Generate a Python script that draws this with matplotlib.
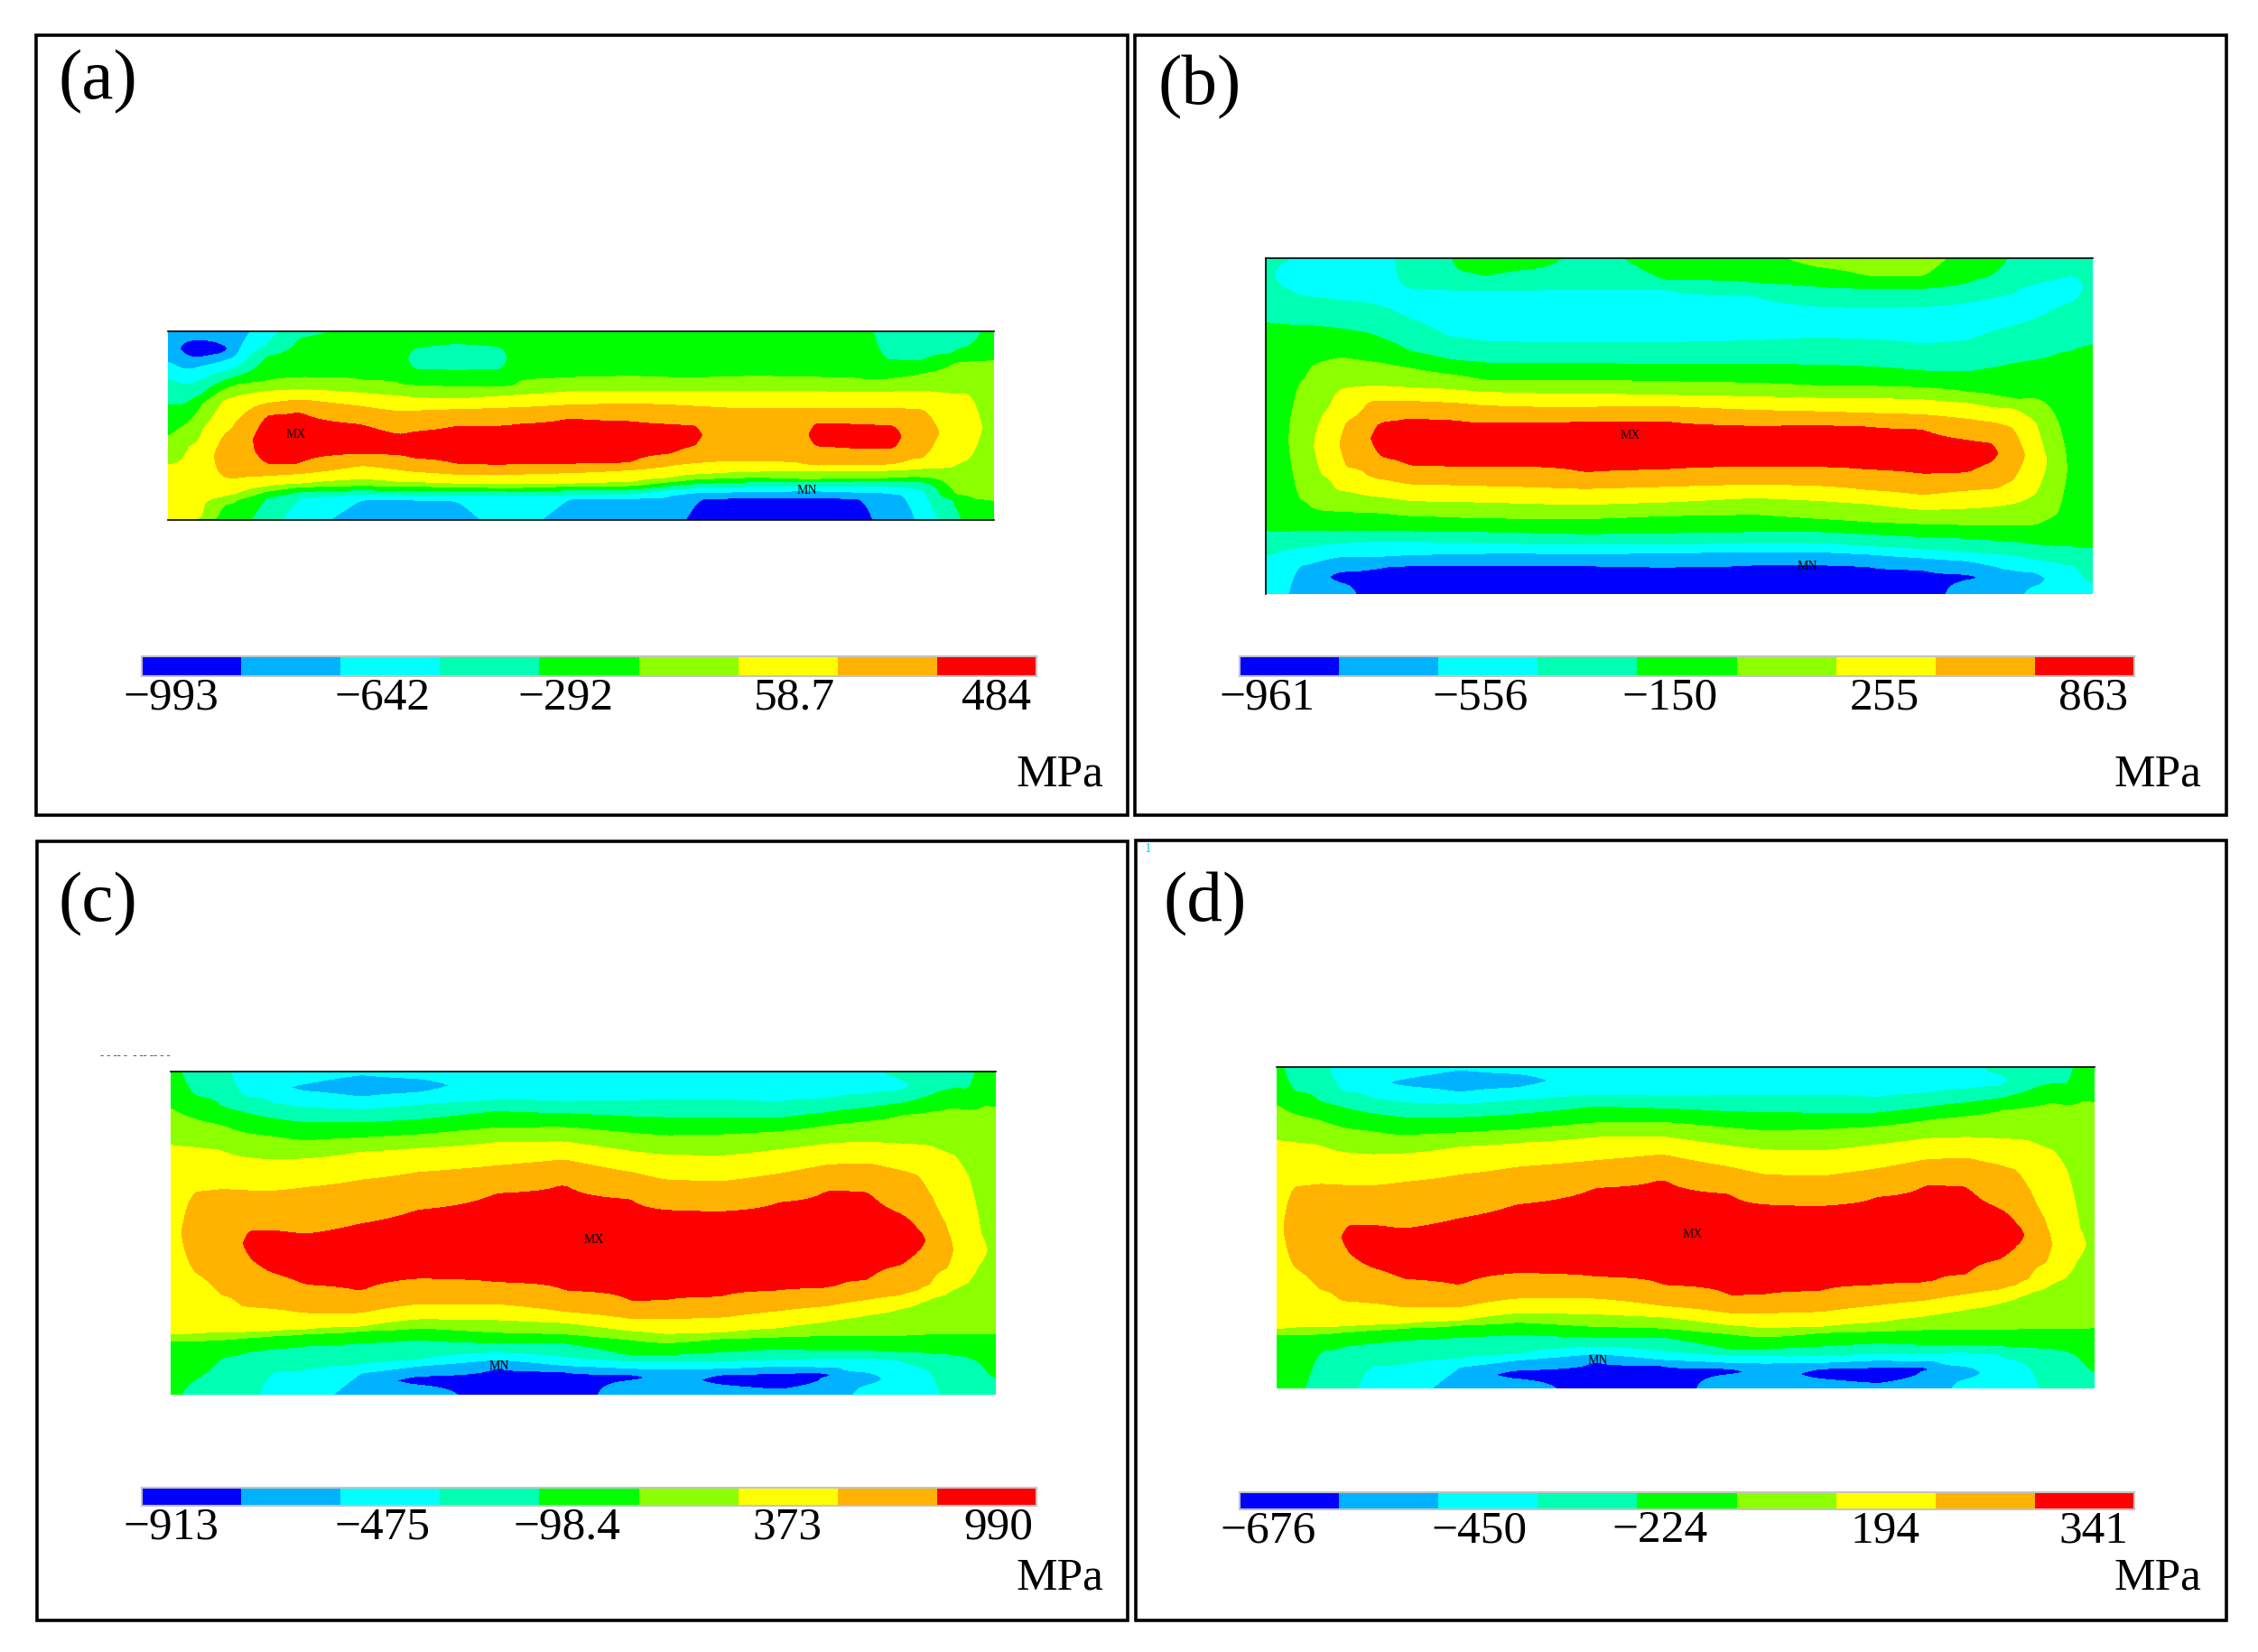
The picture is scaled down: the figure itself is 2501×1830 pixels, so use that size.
import numpy as np
import matplotlib
matplotlib.use("Agg")
import matplotlib.pyplot as plt
from matplotlib.colors import ListedColormap, BoundaryNorm
from matplotlib.patches import Rectangle

plt.rcParams['font.family'] = ['Liberation Serif', 'DejaVu Serif']

W, H = 2501, 1831
band_colors = ['#0000FF', '#00B2FF', '#00FFFF', '#00FFB2', '#00FF00',
               '#8CFF00', '#FFFF00', '#FFB200', '#FF0000']

# Each station: x position, colour bands met from top to bottom, depth of each band change
B16 = [2,3,4,5,6,7,8,7,6,5,4,3,2,1,0,1]
B14 = [2,3,4,5,6,7,8,7,6,5,4,3,2,1]
B15 = [2,3,4,5,6,7,8,7,6,5,4,3,2,1,0]
B18 = [2,1,2,3,4,5,6,7,8,7,6,5,4,3,2,1,0,1]

stations_a = [
 (58,[1,2,3,4,5,6],[185,240,330,440,530]),
 (92,[1,0,1,2,3,4,5,6],[115,170,215,265,330,395,470]),
 (120,[1,0,1,2,3,4,5,6,5],[112,172,200,245,295,325,410,700]),
 (155,[1,0,1,2,3,4,5,6,7,6,5,4],[125,160,185,222,252,280,312,430,570,635,660]),
 (180,[1,2,3,4,5,6,7,6,5,4],[165,205,235,262,300,390,575,625,645]),
 (230,[2,3,4,5,6,7,8,7,6,5,4,3],[135,170,250,285,325,365,525,565,600,618,640]),
 (290,[3,4,5,6,7,8,7,6,5,4,3,2],[108,238,278,312,352,525,558,590,602,618,640]),
 (400,[4,5,6,7,8,7,6,5,4,3,2,1],[248,290,335,395,490,530,575,597,612,625,645]),
 (470,[4,5,6,7,8,7,6,5,4,3,2,1],[262,300,352,430,495,545,585,600,615,628,645]),
 (490,[4,3,4,5,6,7,8,7,6,5,4,3,2,1],[140,212,265,305,350,420,505,550,585,600,615,628,645]),
 (570,[4,3,4,5,6,7,8,7,6,5,4,3,2,1],[125,215,270,310,345,400,525,560,590,602,615,630,648]),
 (655,[4,3,4,5,6,7,8,7,6,5,4,3,2],[137,212,270,300,340,400,528,562,592,605,615,628]),
 (670,[4,5,6,7,8,7,6,5,4,3,2],[265,298,340,395,525,560,590,605,618,630]),
 (770,[4,5,6,7,8,7,6,5,4,3,2,1],[240,285,330,375,525,555,590,600,612,628,640]),
 (880,[4,5,6,7,8,7,6,5,4,3,2,1],[235,285,325,385,520,545,585,598,610,625,640]),
 (950,[4,5,6,7,8,7,6,5,4,3,2,1],[240,285,330,395,490,530,570,585,597,612,630]),
 (1000,[4,5,6,7,8,7,6,5,4,3,2,1,0],[240,285,335,400,460,520,558,575,590,603,620,640]),
 (1008,[4,5,6,7,6,5,4,3,2,1,0],[240,285,335,520,558,575,590,603,620,640]),
 (1100,[4,5,6,7,6,5,4,3,2,1,0],[235,285,342,515,550,570,585,600,618,638]),
 (1188,[4,5,6,7,6,5,4,3,2,1,0],[238,285,340,525,550,575,585,598,615,638]),
 (1200,[4,5,6,7,8,7,6,5,4,3,2,1,0],[238,285,340,390,465,530,550,575,585,598,615,638]),
 (1290,[4,5,6,7,8,7,6,5,4,3,2,1,0],[245,288,340,395,475,527,548,572,582,600,620,640]),
 (1325,[3,4,5,6,7,8,7,6,5,4,3,2,1],[178,248,288,340,398,475,527,548,572,582,600,620]),
 (1350,[3,4,5,6,7,8,7,6,5,4,3,2,1],[182,240,285,342,400,472,525,545,570,582,603,625]),
 (1365,[3,4,5,6,7,6,5,4,3,2,1],[182,238,285,343,515,545,568,583,605,628]),
 (1400,[3,4,5,6,7,6,5,4,3,2],[185,225,285,345,505,540,568,585,610]),
 (1450,[3,4,5,6,5,4,3],[160,190,295,535,625,645]),
 (1480,[3,4,5,6,5,4],[135,185,290,510,640]),
 (1522,[4,5,4],[180,650]),
]

B17b = [4,3,2,3,4,5,6,7,8,7,6,5,4,3,2,1,0]
B18b = [5,4,3,2,3,4,5,6,7,8,7,6,5,4,3,2,1,0]
stations_b = [
 (35,[3,4,3,2],[290,985,1065]),
 (60,[3,2,3,4,3,2],[100,175,298,988,1050]),
 (90,[2,3,4,5,4,3,2,1],[205,302,500,880,985,1042,1100]),
 (115,[2,3,4,5,4,3,2,1],[210,304,440,905,985,1035,1092]),
 (125,[2,3,4,5,6,5,4,3,2,1],[212,305,430,620,790,915,985,1032,1088]),
 (162,[2,3,4,5,6,5,4,3,2,1,0,1],[220,312,412,520,855,920,985,1026,1072,1122,1155]),
 (170,[2,3,4,5,6,7,6,5,4,3,2,1,0,1],[222,315,410,515,630,770,850,920,985,1025,1070,1120,1160]),
 (218,[2,3,4,5,6,7,6,5,4,3,2,1,0],[233,330,424,505,555,800,868,925,985,1020,1070,1113]),
 (225,B15,[235,335,425,505,555,640,715,810,870,925,985,1020,1070,1112]),
 (240,B15,[238,345,428,505,555,625,740,812,872,925,985,1020,1070,1105]),
 (290,[3]+B15,[180,280,390,445,510,555,612,768,830,885,935,985,1020,1065,1098]),
 (355,[3]+B15,[185,340,415,465,515,560,618,770,832,888,938,987,1022,1062,1100]),
 (375,B17b,[120,185,345,420,470,518,562,620,770,833,888,940,987,1023,1062,1100]),
 (420,B17b,[140,185,358,428,485,525,570,628,770,835,890,942,988,1025,1060,1100]),
 (520,B17b,[112,185,360,430,487,530,575,628,772,840,895,945,992,1028,1060,1100]),
 (600,[3]+B15,[182,360,430,485,530,575,622,790,845,898,945,995,1030,1062,1100]),
 (740,B17b,[150,182,362,432,490,535,572,622,780,838,890,935,992,1030,1058,1105]),
 (900,B17b,[160,205,355,432,495,540,585,638,770,830,875,930,988,1025,1055,1098]),
 (1020,B18b,[110,175,240,345,435,505,545,590,635,772,835,885,945,988,1025,1055,1097]),
 (1100,B18b,[138,180,243,350,440,505,545,595,640,780,848,895,955,995,1035,1062,1102]),
 (1200,B18b,[140,180,240,365,455,510,550,600,650,795,865,915,962,1005,1045,1075,1115]),
 (1280,[4,3,2,3,4,5,6,7,8,7,6,5,4,3,2,1,0,1],[160,225,355,458,525,562,615,685,790,850,910,965,1010,1055,1085,1130,1150]),
 (1320,[4,3,2,3,4,5,6,7,8,7,6,5,4,3,2,1],[140,210,325,445,535,575,625,695,755,845,905,965,1015,1060,1100]),
 (1328,[4,3,2,3,4,5,6,7,8,7,6,5,4,3,2,1],[128,208,322,443,537,578,628,697,755,845,905,965,1017,1062,1102]),
 (1336,[4,3,2,3,4,5,6,7,6,5,4,3,2,1],[110,205,315,440,540,578,630,840,900,965,1018,1062,1105]),
 (1360,[3,2,3,4,5,6,7,6,5,4,3,2,1],[195,305,430,550,580,640,820,895,965,1020,1065,1115]),
 (1400,[3,2,3,4,5,6,5,4,3,2,1,2],[165,280,418,545,630,860,965,1030,1080,1122,1170]),
 (1440,[3,2,3,4,5,4,3,2],[148,240,395,640,925,1035,1090]),
 (1472,[3,2,3,4,3,2],[135,220,378,1040,1100]),
 (1500,[3,4,3,2],[358,1045,1165]),
]

stations_c = [
 (62,[4,5,6,5,4],[205,325,955,978]),
 (100,[3,4,5,6,7,6,5,4,3],[165,240,335,485,745,955,978,1110]),
 (150,[3,4,5,6,7,6,5,4,3],[198,262,345,475,825,950,975,1030]),
 (185,[2,3,4,5,6,7,6,5,4,3],[165,218,285,368,478,860,950,970,1020]),
 (195,[2,3,4,5,6,7,8,7,6,5,4,3],[170,222,290,370,480,615,690,865,948,968,1015]),
 (240,[2,3,4,5,6,7,8,7,6,5,4,3,2],[190,240,300,378,482,612,750,870,945,962,1005,1080]),
 (300,[2,1,2,3,4,5,6,7,8,7,6,5,4,3,2],[125,150,205,255,315,375,470,625,790,885,940,955,995,1075]),
 (400,[2,1,2,3,4,5,6,7,8,7,6,5,4,3,2,1],[95,170,212,255,305,352,445,590,812,885,930,945,985,1055,1085]),
 (500,B18,[108,155,197,245,295,340,420,545,770,855,905,935,975,1040,1062,1095,1125]),
 (640,B15,[180,218,272,320,398,490,782,855,908,950,985,1015,1040,1065]),
 (760,B15,[185,225,270,318,378,458,810,880,918,955,985,1030,1060,1080]),
 (880,B16,[182,235,290,350,420,510,848,905,945,975,1025,1045,1070,1090,1110]),
 (940,B14,[180,238,298,362,445,545,842,905,955,985,1025,1045,1072]),
 (1040,B16,[180,240,295,365,450,550,830,900,950,970,1015,1045,1070,1090,1125]),
 (1140,B16,[190,240,285,345,425,520,810,878,935,965,1005,1040,1062,1085,1140]),
 (1225,B16,[175,222,265,325,395,480,802,862,915,960,1010,1036,1065,1085,1100]),
 (1245,B14,[170,215,260,322,393,480,795,855,908,960,1010,1036,1065]),
 (1300,[2,3,4,5,6,7,8,7,6,5,4,3,2,1,2],[160,205,250,320,390,485,775,840,892,960,1010,1035,1082,1125]),
 (1360,[3,2,3,4,5,6,7,8,7,6,5,4,3,2],[110,150,190,230,325,415,560,725,825,870,960,1015,1042]),
 (1390,[3,4,5,6,7,8,7,6,5,4,3,2],[175,225,328,430,610,680,810,850,958,1015,1060]),
 (1410,[3,4,5,6,7,6,5,4,3,2],[168,220,332,500,790,835,955,1020,1075]),
 (1445,[3,4,5,6,7,6,5,4,3],[145,205,360,620,735,810,955,1022]),
 (1458,[3,4,5,6,5,4,3],[138,208,365,795,955,1024]),
 (1480,[3,4,5,6,5,4,3],[155,215,430,790,955,1030]),
 (1497,[4,5,6,5,4,3],[195,620,730,955,1045]),
 (1525,[4,5,4,3],[205,955,1105]),
]

stations_d = [
 (38,[4,5,6,5,4],[190,305,940,960]),
 (63,[3,4,5,6,7,6,5,4],[147,222,317,467,727,937,960]),
 (113,[3,4,5,6,7,6,5,4,3],[180,244,327,457,807,932,957,1012]),
 (148,[2,3,4,5,6,7,6,5,4,3],[147,200,267,350,460,842,932,952,1002]),
 (158,[2,3,4,5,6,7,8,7,6,5,4,3],[152,204,272,352,462,597,672,847,930,950,997]),
 (203,[2,3,4,5,6,7,8,7,6,5,4,3,2],[172,222,282,360,464,594,732,852,927,944,987,1062]),
 (263,[2,1,2,3,4,5,6,7,8,7,6,5,4,3,2],[107,132,187,237,297,357,452,607,772,867,922,937,977,1057]),
 (363,[2,1,2,3,4,5,6,7,8,7,6,5,4,3,2,1],[77,152,194,237,287,334,427,572,794,867,912,927,967,1037,1067]),
 (463,B18,[90,137,179,227,277,322,402,527,752,837,887,917,957,1022,1044,1077,1107]),
 (603,B15,[162,200,254,302,380,472,764,837,890,932,967,997,1022,1047]),
 (723,B15,[167,207,252,300,360,440,792,862,900,937,967,1012,1042,1062]),
 (843,B16,[164,217,272,332,402,492,830,887,927,957,1007,1027,1052,1072,1092]),
 (903,B14,[162,220,280,344,427,527,824,887,937,967,1007,1027,1054]),
 (1003,B16,[162,222,277,347,432,532,812,882,932,952,997,1027,1052,1072,1107]),
 (1103,B16,[172,222,267,327,407,502,792,860,917,947,987,1022,1044,1067,1122]),
 (1188,B16,[157,204,247,307,377,462,784,844,897,942,992,1018,1047,1067,1082]),
 (1208,B14,[152,197,242,304,375,462,777,837,890,942,992,1018,1047]),
 (1263,[2,3,4,5,6,7,8,7,6,5,4,3,2,1,2],[142,187,232,302,372,467,757,822,874,942,992,1017,1064,1107]),
 (1323,[3,2,3,4,5,6,7,8,7,6,5,4,3,2],[92,132,172,212,307,397,542,707,807,852,942,997,1024]),
 (1353,[3,4,5,6,7,8,7,6,5,4,3,2],[157,207,310,412,592,662,792,832,940,997,1042]),
 (1373,[3,4,5,6,7,6,5,4,3,2],[150,202,314,482,772,817,937,1002,1057]),
 (1408,[3,4,5,6,7,6,5,4,3],[127,187,342,602,717,792,937,1004]),
 (1421,[3,4,5,6,5,4,3],[120,190,347,777,937,1006]),
 (1443,[3,4,5,6,5,4,3],[137,197,412,772,937,1012]),
 (1460,[4,5,6,5,4,3],[177,602,712,937,1027]),
 (1488,[4,5,4,3],[187,937,1087]),
]

labels_a = ['\u2212993', '\u2212642', '\u2212292', '58.7', '484']
labels_b = ['\u2212961', '\u2212556', '\u2212150', '255', '863']
labels_c = ['\u2212913', '\u2212475', '\u221298.4', '373', '990']
labels_d = ['\u2212676', '\u2212450', '\u2212224', '194', '341']
ticks_a = [0.29, 2.42, 4.26, 6.57, 8.60]
ticks_b = [0.28, 2.42, 4.33, 6.49, 8.59]
ticks_c = [0.29, 2.42, 4.28, 6.49, 8.62]
ticks_d = [0.29, 2.41, 4.23, 6.49, 8.59]

panels = [
 dict(name='(a)', st=stations_a, ext=(186,1101,368,577), lim=(58,1522,85,712), mx=(285,425), mn=(1190,612),
      bar=(157,1148,728,750), labels=labels_a, ticks=ticks_a, mpa=(1174,858), nm=(108,91), lines=('top','bottom')),
 dict(name='(b)', st=stations_b, ext=(1402,2318,287,659), lim=(35,1500,80,1195), mx=(680,665), mn=(995,1100),
      bar=(1373,2364,728,750), labels=labels_b, ticks=ticks_b, mpa=(2390,858), nm=(1329,97), lines=('top','left')),
 dict(name='(c)', st=stations_c, ext=(189,1103,1188,1546), lim=(62,1525,85,1157), mx=(812,640), mn=(645,1060),
      bar=(157,1148,1649,1669), labels=labels_c, ticks=ticks_c, mpa=(1174,1748), nm=(108,1002), lines=('top',)),
 dict(name='(d)', st=stations_d, ext=(1414,2320,1183,1539), lim=(38,1488,68,1138), mx=(775,622), mn=(608,1042),
      bar=(1373,2364,1654,1673), labels=labels_d, ticks=ticks_d, mpa=(2390,1748), nm=(1335,1002), lines=('top',)),
]
frames = [(40,40,1249,904),(1257,40,2466,904),(41,933,1249,1796),(1258,932,2466,1796)]

def pix_axes(fig, l, r, t, b):
    return fig.add_axes([l/W, 1-b/H, (r-l)/W, (b-t)/H])

def build_field(st, y0, y1, n=500, nx=500, win=9):
    ys = np.linspace(y0, y1, n)
    xs = np.array([s[0] for s in st], float)
    cols = []
    for _, bands, cross in st:
        assert len(cross) == len(bands) - 1
        edges = [y0] + list(cross) + [y1]
        ny, nv = [y0], [bands[0] + 0.5]
        for i, bnd in enumerate(bands):
            if i > 0:
                ny.append(edges[i]); nv.append(max(bands[i-1], bnd))
            mid = 0.5 * (edges[i] + edges[i+1])
            if 0 < i < len(bands) - 1:
                ny.append(mid); nv.append(bnd + 0.5)
        ny.append(y1); nv.append(bands[-1] + 0.5)
        cols.append(np.interp(ys, ny, nv))
    cols = np.array(cols)
    xf = np.linspace(xs[0], xs[-1], nx)
    Z = np.empty((n, nx))
    kern = np.ones(win) / win
    for j in range(n):
        row = np.interp(xf, xs, cols[:, j])
        row = np.convolve(np.pad(row, win, mode='edge'), kern, mode='same')[win:-win]
        Z[j] = row
    return xf, ys, Z

fig = plt.figure(figsize=(W/100, H/100), dpi=100, facecolor='white')
cmap = ListedColormap(band_colors)
norm = BoundaryNorm(np.arange(10), 9)

bg = fig.add_axes([0, 0, 1, 1])
bg.set_xlim(0, W); bg.set_ylim(H, 0); bg.axis('off')
for l, t, r, b in frames:
    bg.add_patch(Rectangle((l, t), r-l, b-t, fill=False, ec='black', lw=2.6))

for p in panels:
    l, r, t, b = p['ext']
    x0, x1, y0, y1 = p['lim']
    ax = pix_axes(fig, l, r, t, b)
    X, Y, Z = build_field(p['st'], y0, y1)
    ax.contourf(X, Y, Z, levels=np.arange(10), colors=band_colors)
    ax.set_xlim(x0, x1); ax.set_ylim(y1, y0)
    ax.set_xticks([]); ax.set_yticks([])
    for name, s in ax.spines.items():
        s.set_visible(name in p['lines'])
        s.set_linewidth(1.2)
    for key, txt in (('mx', 'MX'), ('mn', 'MN')):
        ax.text(*p[key], txt, fontsize=10, ha='center', va='center', color='black')

    l, r, t, b = p['bar']
    cb = pix_axes(fig, l, r, t, b)
    cb.pcolormesh(np.arange(10), [0, 1], np.arange(9).reshape(1, 9), cmap=cmap, norm=norm)
    cb.set_yticks([])
    cb.set_xticks(p['ticks'])
    cb.set_xticklabels(p['labels'], fontsize=37)
    cb.tick_params(axis='x', length=0, pad=0)
    for s in cb.spines.values():
        s.set_color('#c4c4c4'); s.set_linewidth(1.5)

    bg.text(*p['mpa'], 'MPa', fontsize=37, ha='center', va='center')
    bg.text(*p['nm'], p['name'], fontsize=57, ha='center', va='center')

bg.text(1271, 941, '1', fontsize=11, color='#00dddd', ha='center', va='center')
bg.text(150, 1170, '- - -- -  - -- -- - -', fontsize=9, color='#445566', ha='center', va='center')

fig.savefig('out.png', dpi=100)
